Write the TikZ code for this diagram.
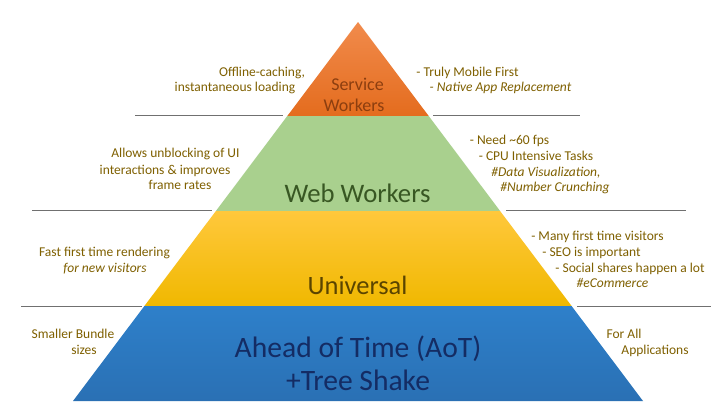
\documentclass[tikz,border=0pt]{standalone}
\usepackage{fontspec}
\setmainfont{Carlito}
\definecolor{noteclr}{RGB}{127,96,0}
\definecolor{rulegray}{RGB}{112,112,112}
\definecolor{orangetop}{RGB}{241,139,76}
\definecolor{orangebot}{RGB}{228,108,30}
\definecolor{greenfill}{RGB}{169,208,142}
\definecolor{yellowtop}{RGB}{255,200,60}
\definecolor{yellowbot}{RGB}{240,184,0}
\definecolor{bluetop}{RGB}{46,128,202}
\definecolor{bluebot}{RGB}{42,112,180}
\definecolor{swtext}{RGB}{140,62,15}
\definecolor{wwtext}{RGB}{56,87,35}
\definecolor{untext}{RGB}{90,68,0}
\definecolor{aottext}{RGB}{20,44,100}
\begin{document}
\begin{tikzpicture}[x=1pt,y=-1pt,
  note/.style={anchor=base,inner sep=0pt,font=\fontsize{13.5}{15}\selectfont,text=noteclr},
  noteit/.style={note,font=\fontsize{13.5}{15}\selectfont\itshape},
  tier/.style={anchor=base,inner sep=0pt},
  rule/.style={draw=rulegray,line width=0.9pt}]
\useasboundingbox (0,0) rectangle (720,405);
\fill[white] (0,0) rectangle (720,405);

% pyramid tiers
\shade[top color=orangetop,bottom color=orangebot]
  (358,22) -- (428.7,116) -- (287.3,116) -- cycle;
\fill[greenfill]
  (287.3,116) -- (428.7,116) -- (500.1,211) -- (215.9,211) -- cycle;
\shade[top color=yellowtop,bottom color=yellowbot]
  (215.9,211) -- (500.1,211) -- (571.6,306) -- (144.4,306) -- cycle;
\shade[top color=bluetop,bottom color=bluebot]
  (144.4,306) -- (571.6,306) -- (643,401) -- (73,401) -- cycle;

% separator rules
\coordinate (r1a) at (135,115); \coordinate (r1b) at (283,115);
\coordinate (r1c) at (433,115); \coordinate (r1d) at (580,115);
\coordinate (r2a) at (32,210);  \coordinate (r2b) at (212,210);
\coordinate (r2c) at (506,210); \coordinate (r2d) at (686,210);
\coordinate (r3a) at (21,306);  \coordinate (r3b) at (142,306);
\coordinate (r3c) at (577,306); \coordinate (r3d) at (711,306);
\draw[rule] (r1a) -- (r1b); \draw[rule] (r1c) -- (r1d);
\draw[rule] (r2a) -- (r2b); \draw[rule] (r2c) -- (r2d);
\draw[rule] (r3a) -- (r3b); \draw[rule] (r3c) -- (r3d);

% tier titles
\node[tier,font=\fontsize{18}{20}\selectfont,text=swtext] (sw1) at (357.5,90) {Service};
\node[tier,font=\fontsize{18}{20}\selectfont,text=swtext] (sw2) at (354,111) {Workers};
\node[tier,font=\fontsize{26.7}{30}\selectfont,text=wwtext] (ww) at (357.5,202) {Web Workers};
\node[tier,font=\fontsize{26.5}{30}\selectfont,text=untext] (un) at (357.5,294) {Universal};
\node[tier,font=\fontsize{29.6}{32}\selectfont,text=aottext] (aot1) at (358,357) {Ahead of Time (AoT)};
\node[tier,font=\fontsize{29.6}{32}\selectfont,text=aottext] (aot2) at (358,390) {+Tree Shake};

% notes, service workers
\node[note] (off1) at (262,76) {Offline-caching,};
\node[note] (off2) at (235,91) {instantaneous loading};
\node[note] (tm1) at (467.5,76) {- Truly Mobile First};
\node[noteit] (tm2) at (500.5,91) {- Native App Replacement};

% notes, web workers
\node[note] (aw1) at (175.5,157) {Allows unblocking of UI};
\node[note] (aw2) at (165,174) {interactions \& improves};
\node[note] (aw3) at (180,189) {frame rates};
\node[note] (nd1) at (509.5,144) {- Need \textasciitilde 60 fps};
\node[note] (nd2) at (536,160) {- CPU Intensive Tasks};
\node[noteit] (nd3) at (546,176) {\#Data Visualization,};
\node[noteit] (nd4) at (555,191) {\#Number Crunching};

% notes, universal
\node[note] (ff1) at (104.5,256) {Fast first time rendering};
\node[noteit] (ff2) at (105,272) {for new visitors};
\node[note] (mf1) at (597.5,240) {- Many first time visitors};
\node[note] (mf2) at (591.5,256) {- SEO is important};
\node[note] (mf3) at (630,272) {- Social shares happen a lot};
\node[noteit] (mf4) at (612.5,287) {\#eCommerce};

% notes, ahead of time
\node[note] (sb1) at (73,338) {Smaller Bundle};
\node[note] (sb2) at (84,354) {sizes};
\node[note] (fa1) at (624,338) {For All};
\node[note] (fa2) at (655,354) {Applications};
\end{tikzpicture}
\end{document}
